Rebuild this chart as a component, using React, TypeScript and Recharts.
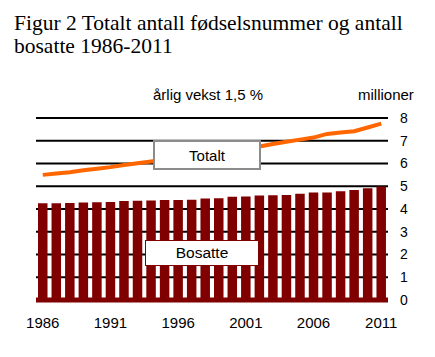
import { ComposedChart, Bar, Line, XAxis, YAxis, CartesianGrid } from 'recharts';

const years = [
  1986, 1987, 1988, 1989, 1990, 1991, 1992, 1993, 1994, 1995, 1996, 1997, 1998,
  1999, 2000, 2001, 2002, 2003, 2004, 2005, 2006, 2007, 2008, 2009, 2010, 2011,
];

// millioner, lest av figuren
const bosatte = [
  4.25, 4.25, 4.26, 4.29, 4.3, 4.31, 4.35, 4.36, 4.37, 4.4, 4.4, 4.41, 4.46,
  4.47, 4.54, 4.55, 4.59, 4.6, 4.61, 4.67, 4.72, 4.73, 4.78, 4.84, 4.91, 4.99,
];

const totalt = [
  5.5, 5.56, 5.62, 5.7, 5.77, 5.84, 5.93, 6.01, 6.09, 6.17, 6.25, 6.33, 6.41,
  6.49, 6.57, 6.66, 6.75, 6.86, 6.96, 7.05, 7.14, 7.3, 7.36, 7.42, 7.58, 7.75,
];

const yTicks = [0, 1, 2, 3, 4, 5, 6, 7, 8];

const data = years.map((year, i) => ({ year, bosatte: bosatte[i], totalt: totalt[i] }));

const sans = 'Arial, "Liberation Sans", sans-serif';
const serif = '"Times New Roman", "Liberation Serif", serif';

export default function App() {
  return (
    <div style={{ position: 'absolute', left: 0, top: 0, width: 435, height: 357, background: '#fff' }}>
      <div
        style={{
          position: 'absolute',
          left: 14,
          top: 12,
          fontFamily: serif,
          fontSize: 21.5,
          lineHeight: '22.5px',
          color: '#000',
          whiteSpace: 'nowrap',
        }}
      >
        Figur 2 Totalt antall fødselsnummer og antall
        <br />
        bosatte 1986-2011
      </div>

      <div style={{ position: 'absolute', left: 153, top: 87, fontFamily: sans, fontSize: 15, lineHeight: '15px' }}>
        årlig vekst 1,5 %
      </div>
      <div style={{ position: 'absolute', left: 358, top: 87, fontFamily: sans, fontSize: 15, lineHeight: '15px' }}>
        millioner
      </div>

      <ComposedChart
        width={435}
        height={357}
        data={data}
        margin={{ top: 118, right: 0, bottom: 0, left: 36 }}
      >
        <CartesianGrid vertical={false} stroke="#000" strokeWidth={2} syncWithTicks />
        <XAxis
          dataKey="year"
          interval={4}
          height={57}
          axisLine={{ stroke: '#800000', strokeWidth: 5 }}
          tickLine={false}
          tickMargin={11}
          tick={{ fontSize: 15, fill: '#000', fontFamily: sans }}
        />
        <YAxis
          orientation="right"
          width={47}
          domain={[0, 8]}
          ticks={yTicks}
          tickCount={9}
          interval={0}
          axisLine={false}
          tickLine={false}
          tickMargin={6}
          tick={{ fontSize: 14, fill: '#000', fontFamily: sans }}
        />
        <Bar dataKey="bosatte" fill="#800000" barSize={9.5} isAnimationActive={false} />
        <Line
          type="linear"
          dataKey="totalt"
          stroke="#ff6600"
          strokeWidth={4}
          dot={false}
          isAnimationActive={false}
        />
      </ComposedChart>

      <div
        style={{
          position: 'absolute',
          left: 153,
          top: 140,
          width: 108,
          height: 30,
          boxSizing: 'border-box',
          border: '2px solid #8c8c8c',
          background: '#fff',
          fontFamily: sans,
          fontSize: 15,
          display: 'flex',
          alignItems: 'center',
          justifyContent: 'center',
        }}
      >
        Totalt
      </div>
      <div
        style={{
          position: 'absolute',
          left: 145,
          top: 240,
          width: 114,
          height: 26,
          boxSizing: 'border-box',
          border: '1.5px solid #800000',
          background: '#fff',
          fontFamily: sans,
          fontSize: 15.5,
          display: 'flex',
          alignItems: 'center',
          justifyContent: 'center',
        }}
      >
        Bosatte
      </div>
    </div>
  );
}
